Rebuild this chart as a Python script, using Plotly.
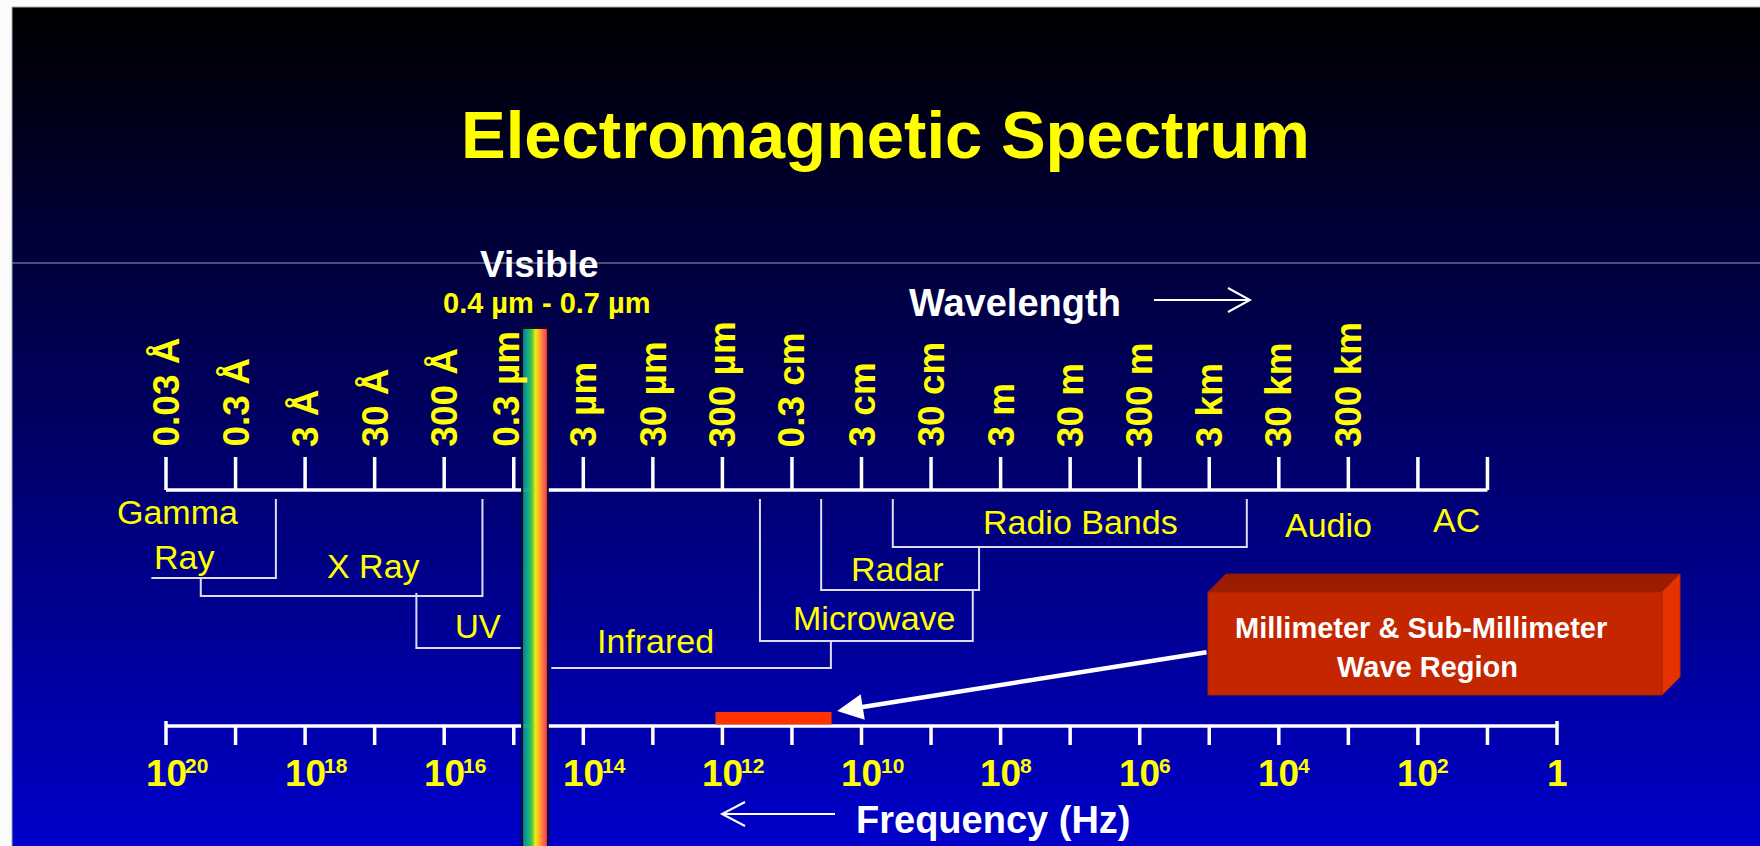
import plotly.graph_objects as go

W, H = 1760, 846

# ---------------- data ----------------
# lower scale: frequency decades, log10(Hz)
freq_tick_exponents = list(range(20, -1, -1))
freq_label_exponents = [20, 18, 16, 14, 12, 10, 8, 6, 4, 2, 0]

# upper scale: wavelength at the same decades (0.03 Å <-> 10^20 Hz)
wl_tick_exponents = list(range(20, 0, -1))
wl_labels = ["0.03 Å", "0.3 Å", "3 Å", "30 Å", "300 Å", "0.3 µm", "3 µm", "30 µm",
             "300 µm", "0.3 cm", "3 cm", "30 cm", "3 m", "30 m", "300 m", "3 km",
             "30 km", "300 km"]

# spectral regions as frequency extents, log10(Hz): high end, low end
band_names = ["Gamma Ray", "X Ray", "UV", "Infrared", "Microwave", "Radar", "Radio Bands"]
band_hi = [20.21, 19.50, 16.40, 14.46, 11.46, 10.58, 9.55]
band_lo = [18.42, 15.45, 14.90, 10.44, 8.40, 8.31, 4.46]

visible_band = [14.88, 14.51]      # 0.4 µm - 0.7 µm strip
mm_band = [12.10, 10.43]           # millimeter & sub-millimeter wave region

# ---------------- layout helpers ----------------
AXIS_LEFT_PX = 166      # screen position of 10^20 Hz
DECADE_PX = 69.55       # width of one decade
X_RANGE = [20 + AXIS_LEFT_PX / DECADE_PX, 20 - (W - AXIS_LEFT_PX) / DECADE_PX]


def px_to_exp(px):
    return 20 - (px - AXIS_LEFT_PX) / DECADE_PX


def pp(px):
    return px / W


SANS = "Liberation Sans, Arial, sans-serif"
YELLOW = "#ffff00"
WHITE = "#ffffff"
BRACKET = "#dcdcf2"

shapes = []
annotations = []


def label(text, x, baseline, size, color, bold=False, family=SANS, xref="paper",
          xanchor="center", xshift=0):
    annotations.append(dict(
        text=text, x=x, xref=xref, y=baseline - 0.3465 * size, yref="y",
        xanchor=xanchor, yanchor="middle", xshift=xshift, showarrow=False,
        font=dict(family=family, size=size, color=color,
                  weight="bold" if bold else "normal"),
    ))


# ---------------- background ----------------
TOP = 7
step = 4
y = TOP
while y < H:
    t = (y - TOP) / (H - TOP)
    shapes.append(dict(type="rect", xref="paper", yref="y", x0=0, x1=1,
                       y0=y, y1=min(y + step + 0.6, H),
                       fillcolor=f"rgb(0,0,{round(202 * t)})", line_width=0, layer="below"))
    y += step
shapes.append(dict(type="rect", xref="paper", yref="y", x0=0, x1=1, y0=0, y1=TOP,
                   fillcolor="#fbfbfb", line_width=0, layer="below"))
shapes.append(dict(type="rect", xref="paper", yref="y", x0=0, x1=pp(12), y0=0, y1=H,
                   fillcolor="#fbfbfb", line_width=0, layer="below"))
shapes.append(dict(type="line", xref="paper", yref="y", x0=pp(12), x1=1, y0=TOP, y1=TOP,
                   line=dict(color="#a8a8a8", width=1), layer="below"))
shapes.append(dict(type="line", xref="paper", yref="y", x0=pp(12), x1=pp(12), y0=TOP, y1=H,
                   line=dict(color="#a8a8b8", width=1), layer="below"))
shapes.append(dict(type="line", xref="paper", yref="y", x0=pp(12), x1=1, y0=263, y1=263,
                   line=dict(color="#9a9ab4", width=1), layer="below"))

# ---------------- scales ----------------
TOP_AXIS_Y, TOP_TICK_Y = 490, 457
BOT_AXIS_Y, BOT_TICK_Y = 726, 745

xs, ys = [wl_tick_exponents[0], wl_tick_exponents[-1], None], [TOP_AXIS_Y, TOP_AXIS_Y, None]
for e in wl_tick_exponents:
    xs += [e, e, None]
    ys += [TOP_TICK_Y, TOP_AXIS_Y, None]
fig = go.Figure()
fig.add_trace(go.Scatter(x=xs, y=ys, mode="lines", line=dict(color=WHITE, width=3.5),
                         hoverinfo="skip", showlegend=False))

xs, ys = [freq_tick_exponents[0], freq_tick_exponents[-1], None], [BOT_AXIS_Y, BOT_AXIS_Y, None]
for e in freq_tick_exponents:
    top = BOT_AXIS_Y - 5 if e in (freq_tick_exponents[0], freq_tick_exponents[-1]) else BOT_AXIS_Y
    xs += [e, e, None]
    ys += [top, BOT_TICK_Y, None]
fig.add_trace(go.Scatter(x=xs, y=ys, mode="lines", line=dict(color=WHITE, width=3.5),
                         hoverinfo="skip", showlegend=False))

# ---------------- region brackets ----------------
# (horizontal bar y, top of left leg, top of right leg)
bracket_rows = [
    (578, None, 499),
    (596, 578, 499),
    (648, 593, None),
    (668, None, 641),
    (641, 499, 590),
    (590, 499, 547),
    (547, 499, 499),
]
xs, ys = [], []
for hi, lo, (yh, ltop, rtop) in zip(band_hi, band_lo, bracket_rows):
    if ltop is not None:
        xs.append(hi)
        ys.append(ltop)
    xs += [hi, lo]
    ys += [yh, yh]
    if rtop is not None:
        xs.append(lo)
        ys.append(rtop)
    xs.append(None)
    ys.append(None)
fig.add_trace(go.Scatter(x=xs, y=ys, mode="lines", line=dict(color=BRACKET, width=2),
                         hoverinfo="skip", showlegend=False))

# ---------------- visible strip ----------------
stops = [(0.0, (10, 130, 160)), (0.18, (16, 170, 150)), (0.36, (60, 195, 80)),
         (0.52, (236, 236, 16)), (0.68, (255, 170, 48)), (0.84, (255, 96, 72)),
         (1.0, (255, 50, 110))]


def spectrum(f):
    for (f0, c0), (f1, c1) in zip(stops[:-1], stops[1:]):
        if f0 <= f <= f1:
            k = (f - f0) / (f1 - f0)
            return "rgb(%d,%d,%d)" % tuple(round(a + (b - a) * k) for a, b in zip(c0, c1))
    return "rgb(%d,%d,%d)" % stops[-1][1]


VIS_TOP = 328
n = 26
for i in range(n):
    x0 = visible_band[0] + (visible_band[1] - visible_band[0]) * i / n
    x1 = visible_band[0] + (visible_band[1] - visible_band[0]) * (i + 1.15) / n
    shapes.append(dict(type="rect", xref="x", yref="y", x0=x0, x1=min(x1, visible_band[1]) if i == n - 1 else x1,
                       y0=VIS_TOP, y1=H, fillcolor=spectrum((i + 0.5) / n), line_width=0, layer="above"))
shapes.append(dict(type="rect", xref="x", yref="y", x0=visible_band[0], x1=visible_band[1],
                   y0=VIS_TOP, y1=H + 2, line=dict(color="#101010", width=2), layer="above"))

# ---------------- millimeter band marker ----------------
shapes.append(dict(type="rect", xref="x", yref="y", x0=mm_band[0], x1=mm_band[1], y0=712, y1=724.5,
                   fillcolor="#ff3300", line_width=0, layer="above"))

# ---------------- 3-D callout box ----------------
bx0, bx1, by0, by1, d = 1208, 1662, 592, 695, 18
shapes.append(dict(type="path", xref="paper", yref="y",
                   path=f"M{pp(bx0)},{by0} L{pp(bx0 + d)},{by0 - d} L{pp(bx1 + d)},{by0 - d} L{pp(bx1)},{by0} Z",
                   fillcolor="#9a1d00", line=dict(color="#8a1800", width=1), layer="above"))
shapes.append(dict(type="path", xref="paper", yref="y",
                   path=f"M{pp(bx1)},{by0} L{pp(bx1 + d)},{by0 - d} L{pp(bx1 + d)},{by1 - d} L{pp(bx1)},{by1} Z",
                   fillcolor="#e43200", line=dict(color="#c02800", width=1), layer="above"))
shapes.append(dict(type="rect", xref="paper", yref="y", x0=pp(bx0), x1=pp(bx1), y0=by0, y1=by1,
                   fillcolor="#c42600", line=dict(color="#a82000", width=1), layer="above"))

# ---------------- direction arrows ----------------
def open_arrow(x_tail, x_tip, yv, head_dx, head_dy):
    shapes.append(dict(type="path", xref="paper", yref="y",
                       path=f"M{pp(x_tail)},{yv} L{pp(x_tip)},{yv} "
                            f"M{pp(x_tip + head_dx)},{yv - head_dy} L{pp(x_tip)},{yv} "
                            f"L{pp(x_tip + head_dx)},{yv + head_dy}",
                       line=dict(color=WHITE, width=2), layer="above"))


open_arrow(1154, 1250, 300, -22, 12)
open_arrow(835, 722, 814, 23, 12)

# ---------------- text ----------------
label("Electromagnetic Spectrum", pp(885), 158, 67, YELLOW, bold=True)
label("Visible", pp(539), 277, 37, WHITE, bold=True)
label("0.4 µm - 0.7 µm", pp(547), 313, 29, YELLOW, bold=True)
label("Wavelength", pp(1015), 316, 38, WHITE, bold=True)
label("Frequency (Hz)", pp(993), 833, 38, WHITE, bold=True)

# wavelength tick labels, written upwards
for e, txt in zip(wl_tick_exponents, wl_labels):
    annotations.append(dict(
        text=txt, x=e, xref="x", y=449, yref="y", xanchor="center", yanchor="bottom",
        textangle=-90, showarrow=False, xshift=-8 if txt == "0.3 µm" else 0,
        font=dict(family=SANS, size=37, color=YELLOW, weight="bold"),
    ))

# frequency tick labels: 10 with a raised exponent
for e in freq_label_exponents:
    if e == 0:
        label("1", e, 786, 37, YELLOW, bold=True, xref="x")
        continue
    label("10", e, 786, 37, YELLOW, bold=True, xref="x")
    label(str(e), e, 773, 21, YELLOW, bold=True, xref="x", xanchor="left", xshift=17)

# region names
label("Gamma", pp(177), 524, 34, YELLOW)
label("Ray", pp(184), 569, 34, YELLOW)
label("X Ray", pp(373), 578, 34, YELLOW)
label("UV", pp(478), 638, 33, YELLOW)
label("Infrared", pp(655), 653, 34, YELLOW)
label("Microwave", pp(874), 630, 34, YELLOW)
label("Radar", pp(897), 581, 34, YELLOW)
label("Radio Bands", pp(1080), 534, 34, YELLOW)
label("Audio", pp(1328), 537, 34, YELLOW)
label("AC", pp(1456), 532, 34, YELLOW)

label("Millimeter & Sub-Millimeter", pp(1421), 638, 29, WHITE, bold=True)
label("Wave Region", pp(1427), 677, 29, WHITE, bold=True)

# pointer from the callout to the band
annotations.append(dict(
    text="", x=mm_band[1] - 0.08, y=711, xref="x", yref="y",
    ax=px_to_exp(bx0), ay=652, axref="x", ayref="y",
    showarrow=True, arrowhead=2, arrowsize=1.15, arrowwidth=4.5, arrowcolor=WHITE, standoff=0,
))

fig.update_layout(
    width=W, height=H, margin=dict(l=0, r=0, t=0, b=0, pad=0),
    paper_bgcolor="#fbfbfb", plot_bgcolor="rgba(0,0,0,0)",
    xaxis=dict(range=X_RANGE, visible=False, fixedrange=True),
    yaxis=dict(range=[H, 0], visible=False, fixedrange=True),
    shapes=shapes, annotations=annotations, hovermode=False, showlegend=False,
)

fig.write_html("out.html", config={"displayModeBar": False, "staticPlot": True})
